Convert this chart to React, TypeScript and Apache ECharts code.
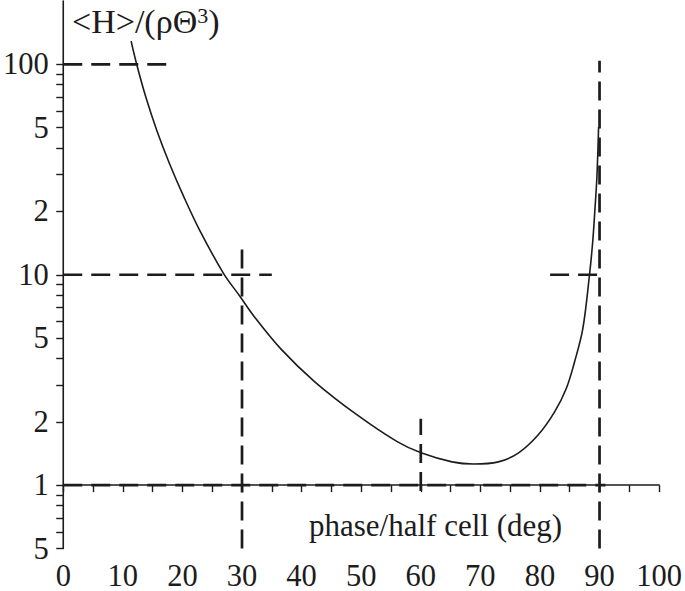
import React, { useEffect, useRef } from "react";
import * as echarts from "echarts";

// Curve: phase/half cell (deg) vs <H>/(rho Theta^3)
const PHASE = [11.39, 12.31, 13.87, 15.7, 17.82, 20.22, 22.88, 26.94, 29.64, 31.97, 36.55, 42.21, 49.38, 56.04, 60.15, 65.25, 68.86, 73.02, 76.36, 79.68, 82.46, 84.4, 85.79, 87.18, 88.29, 88.84, 89.22, 89.56, 89.84];
const H_VALUES = [129, 100.4, 69.7, 48.5, 33.8, 23.5, 16.3, 10.1, 7.91, 6.37, 4.43, 3.1, 2.15, 1.61, 1.42, 1.29, 1.26, 1.29, 1.42, 1.73, 2.23, 2.87, 3.84, 5.51, 9.84, 14.2, 20.3, 29.2, 50.3];

// Dashed reference lines: horizontal [y, xFrom, xTo], vertical [x, yFrom, yTo]
const H_REF = [
  [100, 0, 17.7],
  [10, 0, 35],
  [10, 81.7, 90],
  [1, 0, 91],
];
const V_REF = [
  [30, 0.5, 13.6],
  [60, 0.937, 2.07],
  [90, 0.5, 104],
];

// Axes
const Y_MIN = 0.5;
const Y_MAX = 200;
const Y_TICKS = [0.5, 0.6, 0.7, 0.8, 0.9, 1, 2, 3, 4, 5, 6, 7, 8, 9, 10, 20, 30, 40, 50, 60, 70, 80, 90, 100];
const Y_LABEL_VALUES = [0.5, 1, 2, 5, 10, 20, 50, 100];
const Y_LABEL_TEXT = ["5", "1", "2", "5", "10", "2", "5", "100"];
const X_TICKS = [0, 5, 10, 15, 20, 25, 30, 35, 40, 45, 50, 55, 60, 65, 70, 75, 80, 85, 90, 95, 100];
const X_LABELS = [0, 10, 20, 30, 40, 50, 60, 70, 80, 90, 100];

const FONT = "Liberation Serif";
const INK = "#1c1c1c";
const lg = (v: number) => Math.log10(v);

export default function App() {
  const ref = useRef<HTMLDivElement>(null);
  useEffect(() => {
    if (!ref.current) return;
    const chart = echarts.init(ref.current, undefined, { renderer: "svg" });
    const dashStyle = { color: INK, width: 2.7, type: [19, 9] as any };
    const refSeries: any[] = [];
    H_REF.forEach(([y, a, b]) =>
      refSeries.push({
        type: "line",
        data: [[a, lg(y)], [b, lg(y)]],
        symbol: "none",
        lineStyle: dashStyle,
        silent: true,
      })
    );
    V_REF.forEach(([x, a, b]) =>
      refSeries.push({
        type: "line",
        data: [[x, lg(a)], [x, lg(b)]],
        symbol: "none",
        lineStyle: dashStyle,
        silent: true,
      })
    );
    const option: any = {
      animation: false,
      grid: { left: 61, right: 23, top: 1, bottom: 40, containLabel: false },
      xAxis: {
        type: "value",
        min: 0,
        max: 100,
        interval: 5,
        axisLine: { lineStyle: { color: INK, width: 1.6 } },
        axisTick: { customValues: X_TICKS, length: 7, lineStyle: { color: INK, width: 1.4 } },
        axisLabel: {
          customValues: X_LABELS,
          fontFamily: FONT,
          fontSize: 30.5,
          lineHeight: 22,
          color: INK,
          margin: 16,
        },
        splitLine: { show: false },
      },
      yAxis: {
        type: "value",
        min: lg(Y_MIN),
        max: lg(Y_MAX),
        axisLine: { show: true, lineStyle: { color: INK, width: 1.6 } },
        axisTick: { show: true, customValues: Y_TICKS.map(lg), length: 7, lineStyle: { color: INK, width: 1.4 } },
        axisLabel: {
          customValues: Y_LABEL_VALUES.map(lg),
          fontFamily: FONT,
          fontSize: 30.5,
          color: INK,
          margin: 14.5,
          formatter: (v: number) => {
            let best = 0;
            Y_LABEL_VALUES.forEach((lv, i) => {
              if (Math.abs(lg(lv) - v) < Math.abs(lg(Y_LABEL_VALUES[best]) - v)) best = i;
            });
            return Y_LABEL_TEXT[best];
          },
        },
        splitLine: { show: false },
      },
      series: [
        ...refSeries,
        {
          type: "line",
          data: PHASE.map((x, i) => [x, lg(H_VALUES[i])]),
          symbol: "none",
          smooth: 0.35,
          lineStyle: { color: INK, width: 1.6 },
          silent: true,
        },
      ],
      graphic: [
        {
          type: "text",
          left: 72,
          top: 4,
          style: {
            text: "<H>/(ρΘ{sup|3})",
            fontFamily: FONT,
            fontSize: 34,
            fill: INK,
            rich: {
              sup: { fontSize: 22, fontFamily: FONT, fill: INK, verticalAlign: "top", padding: [0, 0, 11, 0] },
            },
          },
        },
        {
          type: "text",
          left: 309,
          top: 510,
          style: {
            text: "phase/half cell (deg)",
            fontFamily: FONT,
            fontSize: 31,
            fill: INK,
          },
        },
      ],
    };
    chart.setOption(option);
    return () => chart.dispose();
  }, []);
  return (
    <div
      ref={ref}
      style={{ position: "fixed", left: 0, top: 0, width: 685, height: 591, background: "#fff" }}
    />
  );
}
